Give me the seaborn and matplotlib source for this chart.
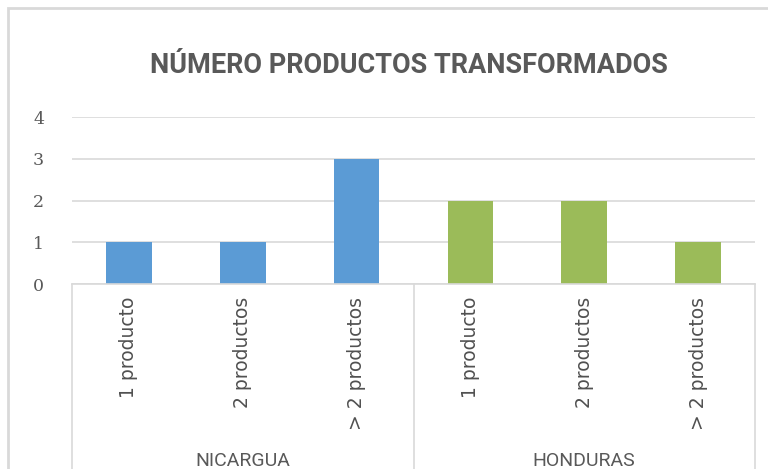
import matplotlib
matplotlib.use("Agg")
import matplotlib.pyplot as plt
import seaborn as sns
import pandas as pd
from matplotlib.transforms import blended_transform_factory

# data
countries = ["NICARGUA", "NICARGUA", "NICARGUA", "HONDURAS", "HONDURAS", "HONDURAS"]
labels = ["1 producto", "2 productos", "> 2 productos"] * 2
values = [1, 1, 3, 2, 2, 1]
group_names = ["NICARGUA", "HONDURAS"]
colors = {"NICARGUA": "#5B9BD5", "HONDURAS": "#9BBB59"}

df = pd.DataFrame({"pais": countries, "cat": [f"{c}|{l}" for c, l in zip(countries, labels)],
                   "valor": values})

sns.set_style("white")
plt.rcParams["font.family"] = ["Roboto", "DejaVu Sans"]
grey = "#595959"
line = "#D9D9D9"

fig = plt.figure(figsize=(7.68, 4.69), dpi=100)
ax = fig.add_axes([72 / 768, 1 - 284 / 469, (755 - 72) / 768, (284 - 117) / 469])

sns.barplot(data=df, x="cat", y="valor", hue="pais", palette=colors, dodge=False,
            width=0.4, legend=False, ax=ax, saturation=1, linewidth=0)

ax.set_ylim(0, 4)
ax.set_xlim(-0.5, len(values) - 0.5)
ax.set_yticks(range(5))
ax.yaxis.grid(True, color=line, lw=1.2)
ax.set_axisbelow(True)
for s in ["top", "right", "left"]:
    ax.spines[s].set_visible(False)
ax.spines["bottom"].set_color(line)
ax.spines["bottom"].set_linewidth(1.2)
ax.set_xlabel("")
ax.set_ylabel("")
ax.tick_params(axis="y", length=0, pad=20, labelsize=12.5, labelcolor=grey)
ax.tick_params(axis="x", length=0, pad=9)
ax.set_xticks(range(len(labels)))
ax.set_xticklabels(labels, rotation=90, fontsize=13.5, color="#505050",
                   family="DejaVu Sans", va="top")
for t in ax.get_yticklabels():
    t.set_family("DejaVu Serif")

# group separators and group labels under the axis
tr = blended_transform_factory(ax.transData, ax.transAxes)
n = len(labels) // len(group_names)
for i in range(len(group_names) + 1):
    ax.plot([i * n - 0.5] * 2, [0, -1.12], transform=tr, color=line, lw=1.2, clip_on=False)
for i, g in enumerate(group_names):
    ax.text(i * n + (n - 1) / 2, -1.06, g, transform=tr, ha="center", va="center",
            fontsize=14, color=grey)

fig.text(0.532, 0.86, "NÚMERO PRODUCTOS TRANSFORMADOS", ha="center", va="center",
         fontsize=19.5, fontweight="bold", color=grey)

# chart area frame
fig.patches.append(plt.Rectangle((8 / 768, -0.1), 1.2, 1 - 8 / 469 + 0.1,
                                 transform=fig.transFigure, fill=False,
                                 edgecolor="#D9D9D9", lw=2))

fig.savefig("out.png", dpi=100)
